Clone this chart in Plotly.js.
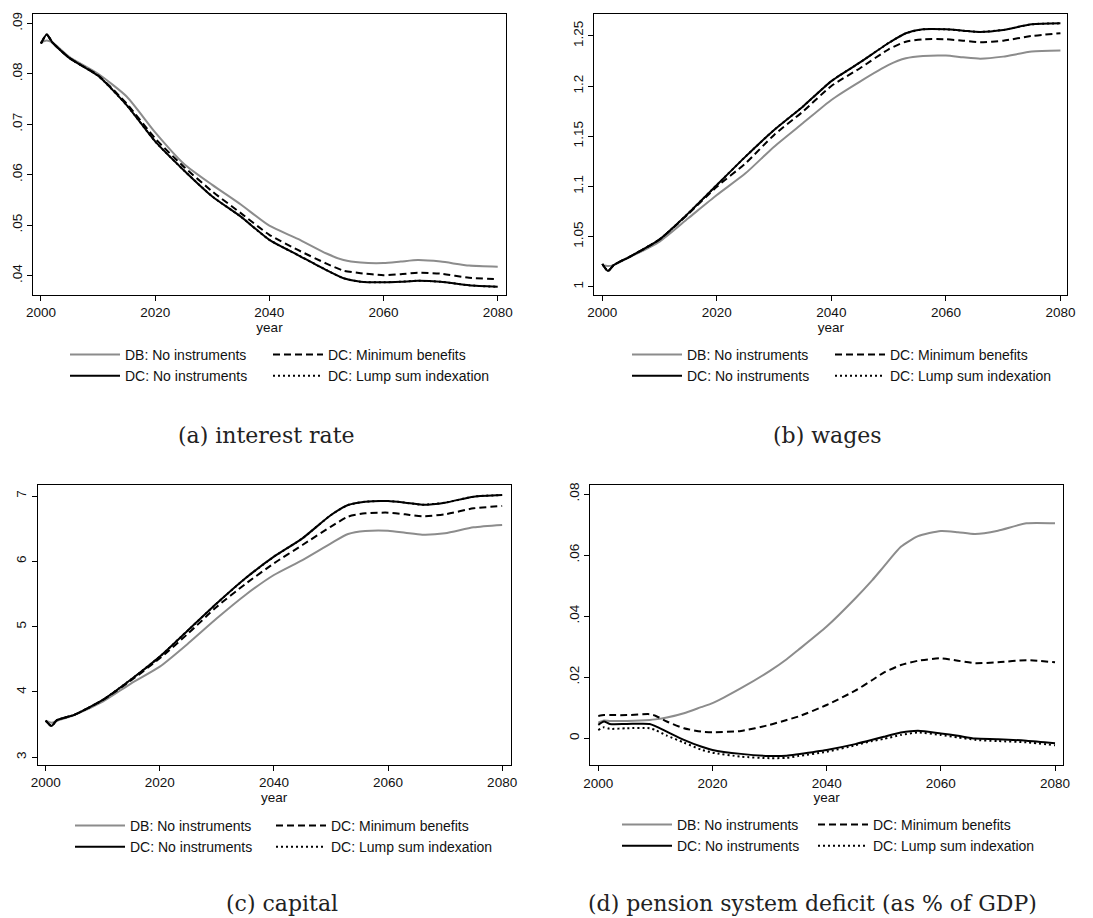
<!DOCTYPE html>
<html><head><meta charset="utf-8">
<script src="https://cdn.plot.ly/plotly-3.0.1.min.js"></script>
<style>html,body{margin:0;padding:0;background:#fff;}#chart{width:1093px;height:918px;}</style>
</head><body><div id="chart"></div>
<script>
// ---------- data ----------
const seriesNames = ['DB: No instruments', 'DC: No instruments', 'DC: Minimum benefits', 'DC: Lump sum indexation'];

const yearsABC = [2000, 2001, 2002, 2005, 2010, 2015, 2020, 2025, 2030, 2035, 2040, 2045, 2050, 2053, 2056, 2060, 2063, 2066, 2070, 2075, 2080];

// (a) interest rate
const rateDB    = [.0862, .0866, .0862, .0833, .0800, .0755, .0684, .0622, .0580, .0541, .0499, .0473, .0444, .0431, .0426, .0425, .0428, .0431, .0428, .0420, .0418];
const rateDC    = [.0860, .0878, .0862, .0831, .0796, .0738, .0666, .0609, .0557, .0517, .0471, .0441, .0411, .0395, .0388, .0387, .0388, .0390, .0388, .0381, .0378];
const rateMin   = [.0860, .0878, .0862, .0831, .0797, .0741, .0672, .0616, .0567, .0524, .0481, .0451, .0424, .0410, .0405, .0401, .0403, .0406, .0404, .0396, .0393];
const rateLump  = [.0860, .0878, .0862, .0831, .0796, .0738, .0666, .0609, .0557, .0517, .0471, .0441, .0411, .0395, .0388, .0387, .0388, .0390, .0388, .0381, .0378];

// (b) wages
const wageDB    = [1.0216, 1.0205, 1.0215, 1.0300, 1.0450, 1.0682, 1.0914, 1.1130, 1.1396, 1.1629, 1.1862, 1.2045, 1.2211, 1.2277, 1.2300, 1.2304, 1.2287, 1.2274, 1.2294, 1.2344, 1.2354];
const wageDC    = [1.0226, 1.0156, 1.0216, 1.0305, 1.0472, 1.0731, 1.1014, 1.1297, 1.1563, 1.1795, 1.2050, 1.2236, 1.2430, 1.2527, 1.2566, 1.2566, 1.2553, 1.2540, 1.2560, 1.2616, 1.2626];
const wageMin   = [1.0226, 1.0156, 1.0216, 1.0305, 1.0470, 1.0725, 1.0997, 1.1230, 1.1513, 1.1745, 1.2001, 1.2178, 1.2367, 1.2443, 1.2467, 1.2467, 1.2453, 1.2437, 1.2453, 1.2500, 1.2527];
const wageLump  = [1.0226, 1.0156, 1.0216, 1.0305, 1.0472, 1.0731, 1.1014, 1.1297, 1.1563, 1.1795, 1.2050, 1.2236, 1.2430, 1.2527, 1.2566, 1.2566, 1.2553, 1.2540, 1.2560, 1.2616, 1.2626];

// (c) capital
const capDB     = [3.561, 3.530, 3.560, 3.648, 3.852, 4.133, 4.388, 4.745, 5.128, 5.485, 5.791, 6.020, 6.276, 6.418, 6.464, 6.469, 6.439, 6.408, 6.429, 6.520, 6.556];
const capDC     = [3.561, 3.480, 3.571, 3.650, 3.878, 4.194, 4.541, 4.949, 5.357, 5.740, 6.071, 6.352, 6.709, 6.862, 6.913, 6.923, 6.898, 6.867, 6.898, 6.990, 7.015];
const capMin    = [3.561, 3.480, 3.571, 3.650, 3.875, 4.180, 4.515, 4.898, 5.306, 5.653, 5.969, 6.250, 6.531, 6.684, 6.735, 6.745, 6.719, 6.689, 6.719, 6.811, 6.847];
const capLump   = [3.561, 3.480, 3.571, 3.650, 3.878, 4.194, 4.541, 4.949, 5.357, 5.740, 6.071, 6.352, 6.709, 6.862, 6.913, 6.923, 6.898, 6.867, 6.898, 6.990, 7.015];

// (d) pension system deficit
const yearsD    = [2000, 2001, 2002, 2005, 2009, 2010, 2012, 2015, 2018, 2020, 2025, 2030, 2033, 2035, 2040, 2045, 2048, 2050, 2053, 2056, 2060, 2063, 2066, 2070, 2075, 2080];
const defDB     = [.0051, .0058, .0057, .0057, .0060, .0062, .0068, .0082, .0102, .0115, .0164, .0220, .0259, .0289, .0366, .0458, .0518, .0562, .0627, .0662, .0679, .0675, .0669, .0680, .0704, .0704];
const defDC     = [.0044, .0055, .0047, .0047, .0047, .0040, .0022, -.0005, -.0027, -.0038, -.0051, -.0058, -.0057, -.0052, -.0038, -.0019, -.0005, .0005, .0019, .0025, .0016, .0008, -.0001, -.0003, -.0008, -.0016];
const defMin    = [.0073, .0076, .0076, .0076, .0079, .0074, .0055, .0033, .0022, .0020, .0024, .0044, .0060, .0071, .0109, .0156, .0191, .0215, .0240, .0254, .0262, .0254, .0246, .0249, .0256, .0249];
const defLump   = [.0027, .0036, .0031, .0033, .0033, .0027, .0009, -.0014, -.0037, -.0047, -.0060, -.0065, -.0064, -.0058, -.0044, -.0023, -.0009, -.0002, .0011, .0019, .0011, .0003, -.0005, -.0009, -.0013, -.0023];

// tick labels
const xTickVals = [2000, 2020, 2040, 2060, 2080];
const aTickVals = [.04, .05, .06, .07, .08, .09];
const aTickText = ['.04', '.05', '.06', '.07', '.08', '.09'];
const bTickVals = [1, 1.05, 1.1, 1.15, 1.2, 1.25];
const bTickText = ['1', '1.05', '1.1', '1.15', '1.2', '1.25'];
const cTickVals = [3, 4, 5, 6, 7];
const cTickText = ['3', '4', '5', '6', '7'];
const dTickVals = [0, .02, .04, .06, .08];
const dTickText = ['0', '.02', '.04', '.06', '.08'];

const captions = ['(a) interest rate', '(b) wages', '(c) capital', '(d) pension system deficit (as % of GDP)'];

// ---------- layout helpers ----------
const W = 1093, H = 918;
const px2x = p => p / W;
const px2y = p => 1 - p / H;

const styles = [
  {color: '#8c8c8c', width: 2, dash: 'solid'},
  {color: '#000000', width: 2, dash: 'solid'},
  {color: '#000000', width: 2, dash: '7px,4px'},
  {color: '#000000', width: 2, dash: '2px,3px'}
];
// legend column for each series: 0 = left column, 1 = right column
const legendCol = [0, 0, 1, 1];

const panels = [
  {x: yearsABC, ys: [rateDB, rateDC, rateMin, rateLump], xa: 'x',  ya: 'y',  lg: ['legend',  'legend5']},
  {x: yearsABC, ys: [wageDB, wageDC, wageMin, wageLump], xa: 'x2', ya: 'y2', lg: ['legend2', 'legend6']},
  {x: yearsABC, ys: [capDB, capDC, capMin, capLump],     xa: 'x3', ya: 'y3', lg: ['legend3', 'legend7']},
  {x: yearsD,   ys: [defDB, defDC, defMin, defLump],     xa: 'x4', ya: 'y4', lg: ['legend4', 'legend8']}
];

const traces = [];
panels.forEach((p, pi) => {
  p.ys.forEach((y, si) => {
    traces.push({
      type: 'scatter', mode: 'lines',
      x: p.x, y: y,
      name: seriesNames[si],
      xaxis: p.xa, yaxis: p.ya,
      legend: p.lg[legendCol[si]],
      line: {color: styles[si].color, width: styles[si].width, dash: styles[si].dash, shape: 'spline', smoothing: 0.6},
      hoverinfo: 'x+y+name'
    });
  });
});

const tickFont = {family: 'Liberation Sans, Arial, sans-serif', size: 13.5, color: '#111'};
function xAxis(l, r, range, anchor) {
  return {
    domain: [px2x(l), px2x(r)], range: range, anchor: anchor,
    tickvals: xTickVals, ticks: 'outside', ticklen: 5, tickcolor: '#000', tickwidth: 1,
    showgrid: false, zeroline: false, showline: true, mirror: true, linecolor: '#000', linewidth: 1,
    tickfont: tickFont,
    title: {text: 'year', font: tickFont, standoff: 1}
  };
}
function yAxis(t, b, range, vals, text, anchor) {
  return {
    domain: [px2y(b), px2y(t)], range: range, anchor: anchor,
    tickvals: vals, ticktext: text, tickangle: -90,
    ticks: 'outside', ticklen: 5, tickcolor: '#000', tickwidth: 1,
    showgrid: false, zeroline: false, showline: true, mirror: true, linecolor: '#000', linewidth: 1,
    tickfont: tickFont
  };
}
function legendAt(lx, ty) {
  return {
    x: px2x(lx), y: px2y(ty), xanchor: 'left', yanchor: 'top',
    orientation: 'v', traceorder: 'normal', itemwidth: 50,
    font: {family: 'Liberation Sans, Arial, sans-serif', size: 14, color: '#111'},
    bgcolor: 'rgba(0,0,0,0)', borderwidth: 0
  };
}
const capFont = {family: 'DejaVu Serif, serif', size: 22, color: '#222'};
function caption(text, cx, cy) {
  return {text: text, xref: 'paper', yref: 'paper', x: px2x(cx), y: px2y(cy),
          xanchor: 'center', yanchor: 'middle', showarrow: false, font: capFont};
}

const layout = {
  width: W, height: H,
  margin: {l: 0, r: 0, t: 0, b: 0},
  paper_bgcolor: '#fff', plot_bgcolor: '#fff',
  showlegend: true,
  xaxis:  xAxis(33, 506, [1998.6, 2081.45], 'y'),
  yaxis:  yAxis(14, 295, [0.03618, 0.09184], aTickVals, aTickText, 'x'),
  xaxis2: xAxis(594.3, 1067.3, [1998.6, 2081.2], 'y2'),
  yaxis2: yAxis(14, 295, [0.9917, 1.2719], bTickVals, bTickText, 'x2'),
  xaxis3: xAxis(37.7, 510.7, [1998.6, 2081.5], 'y3'),
  yaxis3: yAxis(484.7, 765, [2.882, 7.173], cTickVals, cTickText, 'x3'),
  xaxis4: xAxis(590, 1063.3, [1998.55, 2081.45], 'y4'),
  yaxis4: yAxis(484.7, 765.3, [-0.00884, 0.08305], dTickVals, dTickText, 'x4'),
  legend:  legendAt(65, 339),
  legend5: legendAt(268, 339),
  legend2: legendAt(627, 339),
  legend6: legendAt(830, 339),
  legend3: legendAt(70, 810),
  legend7: legendAt(271, 810),
  legend4: legendAt(617, 809),
  legend8: legendAt(813, 809),
  annotations: [
    caption(captions[0], 266, 435),
    caption(captions[1], 827, 435),
    caption(captions[2], 282, 903),
    caption(captions[3], 812, 903)
  ]
};

Plotly.newPlot('chart', traces, layout, {displayModeBar: false, responsive: false});
</script>
</body></html>
